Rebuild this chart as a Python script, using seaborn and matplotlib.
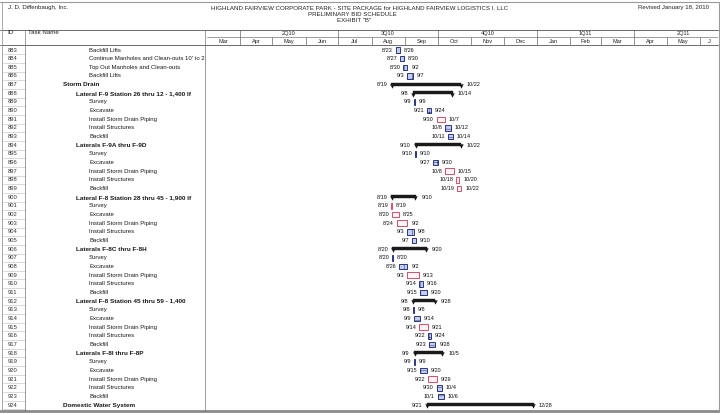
import matplotlib
matplotlib.use("Agg")
import matplotlib.pyplot as plt
import matplotlib.dates as mdates
import matplotlib.transforms as mtransforms
from matplotlib.lines import Line2D
import seaborn as sns
import pandas as pd
from datetime import datetime

# ---------------- data ----------------
task_ids = list(range(883, 925))
task_names = [
    "Backfill Lifts",
    "Continue Manholes and Clean-outs 10' to 2",
    "Top Out Manholes and Clean-outs",
    "Backfill Lifts",
    "Storm Drain",
    "Lateral F-9 Station 26 thru 12 - 1,400 lf",
    "Survey", "Excavate", "Install Storm Drain Piping", "Install Structures", "Backfill",
    "Laterals F-9A thru F-9D",
    "Survey", "Excavate", "Install Storm Drain Piping", "Install Structures", "Backfill",
    "Lateral F-8 Station 28 thru 45 - 1,900 lf",
    "Survey", "Excavate", "Install Storm Drain Piping", "Install Structures", "Backfill",
    "Laterals F-8C thru F-8H",
    "Survey", "Excavate", "Install Storm Drain Piping", "Install Structures", "Backfill",
    "Lateral F-8 Station 45 thru 59 - 1,400",
    "Survey", "Excavate", "Install Storm Drain Piping", "Install Structures", "Backfill",
    "Laterals F-8I thru F-8P",
    "Survey", "Excavate", "Install Storm Drain Piping", "Install Structures", "Backfill",
    "Domestic Water System",
]
outline_level = [3, 3, 3, 3, 1, 2, 3, 3, 3, 3, 3, 2, 3, 3, 3, 3, 3, 2, 3, 3, 3,
                 3, 3, 2, 3, 3, 3, 3, 3, 2, 3, 3, 3, 3, 3, 2, 3, 3, 3, 3, 3, 1]
bar_type = ["b", "b", "b", "b", "s", "s", "b", "b", "r", "b", "b", "s", "b", "b",
            "r", "r", "r", "s", "r", "r", "r", "b", "b", "s", "b", "b", "r", "b",
            "b", "s", "b", "b", "r", "b", "b", "s", "b", "b", "r", "b", "b", "s"]
start_dates = ["8/23", "8/27", "8/30", "9/3", "8/19", "9/8", "9/9", "9/21", "9/30",
               "10/8", "10/11", "9/10", "9/10", "9/27", "10/8", "10/18", "10/19",
               "8/19", "8/19", "8/20", "8/24", "9/3", "9/7", "8/20", "8/20", "8/26",
               "9/3", "9/14", "9/15", "9/8", "9/8", "9/9", "9/14", "9/22", "9/23",
               "9/9", "9/9", "9/15", "9/22", "9/30", "10/1", "9/21"]
end_dates = ["8/26", "8/30", "9/2", "9/7", "10/22", "10/14", "9/9", "9/24", "10/7",
             "10/12", "10/14", "10/22", "9/10", "9/30", "10/15", "10/20", "10/22",
             "9/10", "8/19", "8/25", "9/2", "9/8", "9/10", "9/20", "8/20", "9/2",
             "9/13", "9/16", "9/20", "9/28", "9/8", "9/14", "9/21", "9/24", "9/28",
             "10/5", "9/9", "9/20", "9/29", "10/4", "10/6", "12/28"]
schedule_year = 2010

month_labels = ["Mar", "Apr", "May", "Jun", "Jul", "Aug", "Sep", "Oct", "Nov", "Dec",
                "Jan", "Feb", "Mar", "Apr", "May", "J"]
quarter_labels = ["2Q10", "3Q10", "4Q10", "1Q11", "2Q11"]
quarter_starts = ["2010-04-01", "2010-07-01", "2010-10-01", "2011-01-01", "2011-04-01"]

company = "J. D. Diffenbaugh, Inc."
title_lines = ["HIGHLAND FAIRVIEW CORPORATE PARK - SITE PACKAGE for HIGHLAND FAIRVIEW LOGISTICS I. LLC",
               "PRELIMINARY BID SCHEDULE",
               "EXHIBIT \"B\""]
revised = "Revised January 18, 2010"

# ---------------- styling ----------------
sns.set_theme(style="white")
plt.rcParams['font.family'] = ['Liberation Sans', 'DejaVu Sans']
plt.rcParams['hatch.linewidth'] = 0.35

W, H = 720, 415
fig = plt.figure(figsize=(W / 100, H / 100), dpi=100)
fig.patch.set_facecolor("white")


def fx(px):
    return px / W


def fy(py):
    return 1 - py / H


def hline(y, x0, x1, color="#555555", lw=0.6):
    fig.add_artist(Line2D([fx(x0), fx(x1)], [fy(y), fy(y)], transform=fig.transFigure,
                          color=color, lw=lw))


def vline(x, y0, y1, color="#555555", lw=0.6):
    fig.add_artist(Line2D([fx(x), fx(x)], [fy(y0), fy(y1)], transform=fig.transFigure,
                          color=color, lw=lw))


chart_left, chart_right = 206.5, 718
body_top, body_bottom = 45, 411
head_top = 30
px_per_day = 1.08
row_px = 8.66
row0_px = 50

ax = fig.add_axes([fx(chart_left), fy(body_bottom), fx(chart_right) - fx(chart_left),
                   fy(body_top) - fy(body_bottom)])
hax = fig.add_axes([fx(chart_left), fy(body_top), fx(chart_right) - fx(chart_left),
                    fy(head_top) - fy(body_top)], sharex=ax)

x0 = mdates.date2num(datetime(2010, 3, 1))
x1 = x0 + (chart_right - chart_left) / px_per_day
ylims = ((body_bottom - row0_px) / row_px, (body_top - row0_px) / row_px)


def parse(md):
    m, d = md.split("/")
    return datetime(schedule_year, int(m), int(d))


df = pd.DataFrame({
    "id": task_ids, "name": task_names, "level": outline_level, "kind": bar_type,
    "start": [parse(s) for s in start_dates], "end": [parse(e) for e in end_dates],
    "start_lbl": start_dates, "end_lbl": end_dates,
})
df["row"] = range(len(df))
df["x_start"] = mdates.date2num(df["start"])
df["x_end"] = mdates.date2num(df["end"]) + 1

# ---------------- bars ----------------
blue = df[df.kind == "b"]
red = df[df.kind == "r"]
summ = df[df.kind == "s"]

ax.barh(blue.row, blue.x_end - blue.x_start, left=blue.x_start, height=0.64,
        color="#c4cff0", edgecolor="#1f2a78", linewidth=0.65, hatch="++")
ax.barh(red.row, red.x_end - red.x_start, left=red.x_start, height=0.64,
        color="#fff3f5", edgecolor="#d0445f", linewidth=0.65)
ax.barh(summ.row - 0.05, summ.x_end - summ.x_start, left=summ.x_start, height=0.36,
        color="#1a1a1a", edgecolor="#1a1a1a", linewidth=0.3)
ends = pd.DataFrame({"x": list(summ.x_start + 0.6) + list(summ.x_end - 0.6),
                     "y": list(summ.row + 0.14) * 2})
sns.scatterplot(data=ends, x="x", y="y", marker="v", s=10, color="#1a1a1a",
                linewidth=0, ax=ax, legend=False)
ax.set_xlim(x0, x1)
ax.set_ylim(*ylims)
ax.set_axis_off()

for _, r in df.iterrows():
    off = 3.0 if r.kind == "s" else 2.0
    ax.annotate(r.start_lbl, (r.x_start, r.row), xytext=(-off, 0), textcoords="offset points",
                ha="right", va="center", fontsize=4.0, color="#111111")
    ax.annotate(r.end_lbl, (r.x_end, r.row), xytext=(off + 0.8, 0), textcoords="offset points",
                ha="left", va="center", fontsize=4.0, color="#111111")

# ---------------- table text ----------------
trans = mtransforms.blended_transform_factory(fig.transFigure, ax.transData)
indent_px = {1: 63, 2: 76, 3: 89}
for _, r in df.iterrows():
    ax.text(fx(8), r.row, str(r.id), transform=trans, ha="left", va="center",
            fontsize=4.2, color="#333333", clip_on=False)
    bold = r.level < 3
    ax.text(fx(indent_px[r.level]), r.row, r["name"], transform=trans, ha="left", va="center",
            fontsize=4.6 if bold else 4.35, color="#1a1a1a", clip_on=False,
            fontweight="bold" if bold else "normal")
    yb = fy(row0_px + (r.row + 0.5) * row_px)
    fig.add_artist(Line2D([fx(3), fx(25)], [yb, yb], transform=fig.transFigure,
                          color="#bbbbbb", lw=0.4))

# ---------------- header timescale ----------------
month_starts = pd.date_range("2010-03-01", "2011-06-01", freq="MS")
for i, ms in enumerate(month_starts):
    a = mdates.date2num(ms)
    b = min(mdates.date2num(ms + pd.offsets.MonthBegin(1)), x1)
    if i > 0:
        hax.plot([a, a], [0, 1], color="#666666", lw=0.5)
    hax.text((a + b) / 2, 0.5, month_labels[i], ha="center", va="center", fontsize=4.1,
             color="#222222")
for lbl, qs in zip(quarter_labels, quarter_starts):
    a = mdates.date2num(pd.Timestamp(qs))
    b = mdates.date2num(pd.Timestamp(qs) + pd.offsets.QuarterBegin(1, startingMonth=1))
    hax.plot([a, a], [1, 2], color="#666666", lw=0.5)
    hax.text((a + b) / 2, 1.5, lbl, ha="center", va="center", fontsize=4.1, color="#222222")
hax.plot([x0, x1], [1, 1], color="#777777", lw=0.5)
hax.set_xlim(x0, x1)
hax.set_ylim(0, 2)
hax.set_axis_off()

# ---------------- page frame ----------------
hline(2, 0, 720, color="#999999", lw=0.8)
hline(head_top, 0, 720, lw=0.6)
hline(body_top, 0, 720, lw=0.6)
hline(411, 0, 720, color="#8a8a8a", lw=2.0)
vline(1.5, 2, 411, color="#999999", lw=0.6)
vline(718.5, 2, 411, color="#999999", lw=0.8)
vline(25, head_top, 411, color="#777777", lw=0.5)
vline(205, head_top, 411, color="#777777", lw=0.5)

fig.text(fx(8), fy(8), company, ha="left", va="center", fontsize=4.4, color="#222222")
fig.text(fx(360), fy(8), title_lines[0], ha="center", va="center", fontsize=4.4, color="#222222")
fig.text(fx(352), fy(14), title_lines[1], ha="center", va="center", fontsize=4.4, color="#222222")
fig.text(fx(354), fy(20), title_lines[2], ha="center", va="center", fontsize=4.4, color="#222222")
fig.text(fx(709), fy(8), revised, ha="right", va="center", fontsize=4.4, color="#222222")
fig.text(fx(7), fy(33), "ID", ha="left", va="center", fontsize=4.4, color="#222222")
fig.text(fx(28), fy(33), "Task Name", ha="left", va="center", fontsize=4.4, color="#222222")

fig.savefig("out.png", dpi=100, facecolor="white")
